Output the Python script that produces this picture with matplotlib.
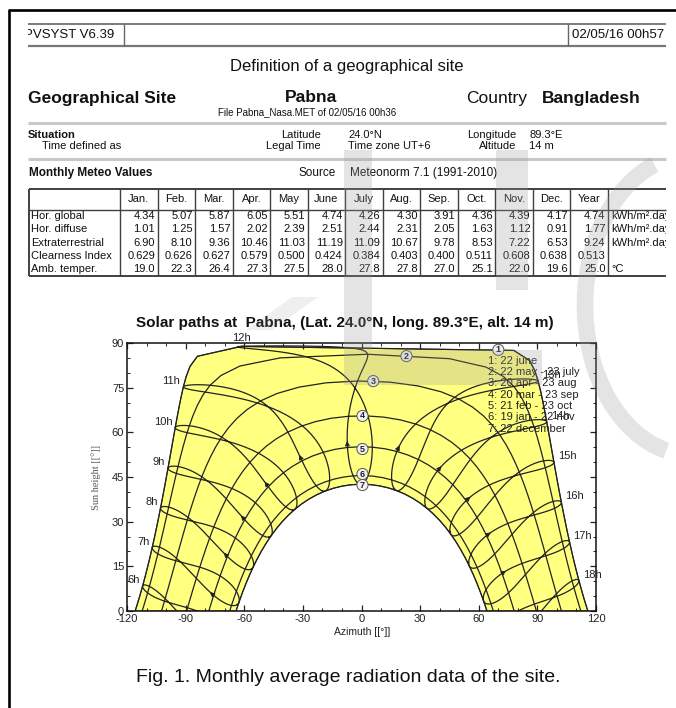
import numpy as np
import matplotlib
matplotlib.use('Agg')
import matplotlib.pyplot as plt
from matplotlib.patches import Rectangle, Arc, Polygon
from matplotlib.ticker import MultipleLocator
from matplotlib.transforms import Bbox, TransformedBbox

plt.rcParams['axes.unicode_minus'] = False
SANS = ['Liberation Sans', 'DejaVu Sans']
SERIF = ['Liberation Serif', 'DejaVu Serif']
NARROW = ['Liberation Sans Narrow', 'Liberation Sans', 'DejaVu Sans']

# ---------------- data ----------------
header_left = 'PVSYST V6.39'
header_right = '02/05/16 00h57'
page_title = 'Definition of a geographical site'
site_name = 'Pabna'
country_name = 'Bangladesh'
file_text = 'File Pabna_Nasa.MET of 02/05/16 00h36'
latitude = 24.0
longitude = 89.3
time_zone = 6
site_altitude = 14
meteo_source = 'Meteonorm 7.1 (1991-2010)'

months = ['Jan.', 'Feb.', 'Mar.', 'Apr.', 'May', 'June', 'July', 'Aug.',
          'Sep.', 'Oct.', 'Nov.', 'Dec.', 'Year']
row_labels = ['Hor. global', 'Hor. diffuse', 'Extraterrestrial',
              'Clearness Index', 'Amb. temper.']
hor_global = [4.34, 5.07, 5.87, 6.05, 5.51, 4.74, 4.26, 4.30, 3.91, 4.36, 4.39, 4.17, 4.74]
hor_diffuse = [1.01, 1.25, 1.57, 2.02, 2.39, 2.51, 2.44, 2.31, 2.05, 1.63, 1.12, 0.91, 1.77]
extraterrestrial = [6.90, 8.10, 9.36, 10.46, 11.03, 11.19, 11.09, 10.67, 9.78, 8.53, 7.22, 6.53, 9.24]
clearness_index = [0.629, 0.626, 0.627, 0.579, 0.500, 0.424, 0.384, 0.403, 0.400, 0.511, 0.608, 0.638, 0.513]
amb_temper = [19.0, 22.3, 26.4, 27.3, 27.5, 28.0, 27.8, 27.8, 27.0, 25.1, 22.0, 19.6, 25.0]
row_units = ['kWh/m\u00b2.day', 'kWh/m\u00b2.day', 'kWh/m\u00b2.day', '', '\u00b0C']
row_decimals = [2, 2, 2, 3, 1]

# solar paths: day of year of each date curve (from the legend)
path_days = [173, 142, 110, 79, 52, 19, 356]
path_labels = ['1: 22 june', '2: 22 may - 23 july', '3: 20 apr - 23 aug',
               '4: 20 mar - 23 sep', '5: 21 feb - 23 oct', '6: 19 jan - 22 nov',
               '7: 22 december']
marker_az = [70.0, 23.0, 6.0, 0.5, 0.5, 0.5, 0.5]
marker_alt = [87.7, 85.6, 77.2, 65.5, 54.4, 46.0, 42.3]
hours = [6, 7, 8, 9, 10, 11, 12, 13, 14, 15, 16, 17, 18]
arrow_day = 55
caption = 'Fig. 1. Monthly average radiation data of the site.'


# ---------------- solar geometry ----------------
def spencer(n):
    g = 2 * np.pi * (np.asarray(n, dtype=float) - 1) / 365.0
    dec = (0.006918 - 0.399912 * np.cos(g) + 0.070257 * np.sin(g)
           - 0.006758 * np.cos(2 * g) + 0.000907 * np.sin(2 * g)
           - 0.002697 * np.cos(3 * g) + 0.00148 * np.sin(3 * g))
    eot = 229.18 * (0.000075 + 0.001868 * np.cos(g) - 0.032077 * np.sin(g)
                    - 0.014615 * np.cos(2 * g) - 0.040849 * np.sin(2 * g))
    return np.degrees(dec), eot


def sun_pos(dec, omega):
    phi = np.radians(latitude)
    d = np.radians(dec)
    w = np.radians(omega)
    s = np.sin(phi) * np.sin(d) + np.cos(phi) * np.cos(d) * np.cos(w)
    alt = np.degrees(np.arcsin(np.clip(s, -1, 1)))
    az = np.degrees(np.arctan2(np.sin(w), np.cos(w) * np.sin(phi) - np.tan(d) * np.cos(phi)))
    return az, alt


def hour_angle(legal_hour, eot):
    solar = legal_hour + (longitude - 15.0 * time_zone) / 15.0 + eot / 60.0
    return 15.0 * (solar - 12.0)


def day_path(n):
    dec, eot = spencer(n)
    w0 = np.degrees(np.arccos(-np.tan(np.radians(latitude)) * np.tan(np.radians(dec))))
    t = np.arange(0, 24.001, 0.25)
    w = hour_angle(t, eot)
    w = w[(w > -w0) & (w < w0)]
    w = np.concatenate([[-w0], w, [w0]])
    return sun_pos(dec, w)


# ---------------- figure ----------------
fig = plt.figure(figsize=(6.76, 7.08), dpi=100)
bg = fig.add_axes([0, 0, 1, 1], zorder=0)
bg.set_xlim(0, 676)
bg.set_ylim(708, 0)
bg.axis('off')

clip_box = TransformedBbox(Bbox.from_extents(28 / 676, 0, 666 / 676, 1), fig.transFigure)


def T(x, y, s, size=8, weight='normal', ha='left', family=SANS, color='#111111', **kw):
    t = bg.text(x, y, s, fontsize=size, fontweight=weight, ha=ha, va='center',
                family=family, color=color, **kw)
    t.set_clip_path(None)
    t.set_clip_box(clip_box)
    t.set_clip_on(True)
    return t


def L(xs, ys, color='#555555', lw=1.0, **kw):
    bg.plot(xs, ys, color=color, lw=lw, solid_capstyle='butt', **kw)


# page border
L([8.5, 8.5], [9.5, 708], color='black', lw=1.9)
L([7.8, 676], [9.5, 9.5], color='black', lw=1.9)

# header box
L([28, 666], [23.5, 23.5], color='#666666', lw=1.2)
L([28, 666], [45.5, 45.5], color='#777777', lw=1.6)
L([124, 124], [23.5, 45.5], color='#666666', lw=1.0)
L([568, 568], [23.5, 45.5], color='#666666', lw=1.0)
T(24, 35, header_left, size=9.5)
T(572, 35, header_right, size=9.5)

T(347, 67, page_title, size=12, ha='center')
T(28, 98, 'Geographical Site', size=12.5, weight='bold')
T(311, 98, site_name, size=12.5, weight='bold', ha='center')
T(527, 98, 'Country', size=12.5, ha='right')
T(542, 98, country_name, size=12.5, weight='bold')
T(307, 112, file_text, size=7, ha='center')

L([28, 666], [123, 123], color='#c8c8c8', lw=2.2)
T(28, 135, 'Situation', size=8, weight='bold')
T(42, 146, 'Time defined as', size=8)
T(321, 135, 'Latitude', size=8, ha='right')
T(348, 135, '%.1f\u00b0N' % latitude, size=8)
T(321, 146, 'Legal Time', size=8, ha='right')
T(348, 146, 'Time zone UT+%d' % time_zone, size=8)
T(516, 135, 'Longitude', size=8, ha='right')
T(529, 135, '%.1f\u00b0E' % longitude, size=8)
T(516, 146, 'Altitude', size=8, ha='right')
T(529, 146, '%d m' % site_altitude, size=8)
L([28, 666], [159, 159], color='#c8c8c8', lw=2.2)

T(29, 173, 'Monthly Meteo Values', size=8.5, weight='bold')
T(336, 173, 'Source', size=8.5, ha='right')
T(350, 173, meteo_source, size=8.5)

# table
col_edges = np.linspace(120, 608, len(months) + 1)
tbl_top, tbl_head, tbl_bot = 189, 209.5, 276
row_h = (tbl_bot - tbl_head) / len(row_labels)
L([29, 666], [tbl_top, tbl_top], color='#404040', lw=1.4)
L([29, 666], [tbl_bot, tbl_bot], color='#404040', lw=1.4)
L([29, 666], [tbl_head, tbl_head], color='#404040', lw=1.0)
L([29, 29], [tbl_top, tbl_bot], color='#404040', lw=1.4)
for xe in col_edges:
    L([xe, xe], [tbl_top, tbl_bot], color='#404040', lw=1.0)
for j, m in enumerate(months):
    T((col_edges[j] + col_edges[j + 1]) / 2, (tbl_top + tbl_head) / 2, m, size=8, ha='center')
table_rows = [hor_global, hor_diffuse, extraterrestrial, clearness_index, amb_temper]
for i, (lab, vals, dec_n, unit) in enumerate(zip(row_labels, table_rows, row_decimals, row_units)):
    yc = tbl_head + row_h * (i + 0.5)
    T(31, yc, lab, size=8)
    for j, v in enumerate(vals):
        T(col_edges[j + 1] - 2.5, yc, '{:.{p}f}'.format(v, p=dec_n), size=8, ha='right')
    if unit:
        T(611, yc, unit, size=8)

# ---------------- solar path chart ----------------
ax = fig.add_axes([127 / 676, 1 - 611 / 708, 469 / 676, 268 / 708], zorder=1)
ax.set_xlim(-120, 120)
ax.set_ylim(0, 90)

az_j, alt_j = day_path(path_days[0])
az_d, alt_d = day_path(path_days[-1])
ax.fill(np.concatenate([az_j, az_d[::-1]]), np.concatenate([alt_j, alt_d[::-1]]),
        facecolor='#ffff80', edgecolor='#3a3a3a', lw=0.8, zorder=1)

for n in path_days:
    az, alt = day_path(n)
    ax.plot(az, alt, color='#222222', lw=0.9, zorder=2)

days = np.arange(1, 366)
dec_y, eot_y = spencer(days)
dec_j, eot_j = spencer(path_days[0])
for h in hours:
    az, alt = sun_pos(dec_y, hour_angle(h, eot_y))
    ax.plot(np.append(az, az[0]), np.append(alt, alt[0]), color='#222222', lw=0.9, zorder=2)
    i = arrow_day - 1
    if alt[i] > 1:
        ax.annotate('', xy=(az[i + 3], alt[i + 3]), xytext=(az[i], alt[i]),
                    arrowprops=dict(arrowstyle='-|>', color='#222222', lw=0.7,
                                    mutation_scale=7, shrinkA=0, shrinkB=0), zorder=3)
    ae, he = sun_pos(dec_j, hour_angle(h, eot_j))
    if h < 12:
        ax.text(ae - 1.5, he + 2.0, '%dh' % h, ha='right', va='center', fontsize=8,
                family=SANS, color='#222222', zorder=6)
    elif h == 12:
        ax.text(ae, 91.8, '%dh' % h, ha='center', va='center', fontsize=8,
                family=SANS, color='#222222', zorder=6, clip_on=False)
    else:
        ax.text(ae + 2.0, he + 2.0, '%dh' % h, ha='left', va='center', fontsize=8,
                family=SANS, color='#222222', zorder=6, clip_on=False)

for k in range(len(path_days)):
    ax.text(marker_az[k], marker_alt[k], str(k + 1), ha='center', va='center',
            fontsize=6.5, fontweight='bold', family=SANS, color='#222222', zorder=7,
            bbox=dict(boxstyle='circle,pad=0.12', fc='#f2f2f2', ec='#555555', lw=0.7))

for k, lab in enumerate(path_labels):
    ax.text(64.7, 84.0 - 3.8 * k, lab, ha='left', va='center', fontsize=8,
            family=SANS, color='#222222', zorder=8)

ax.xaxis.set_major_locator(MultipleLocator(30))
ax.xaxis.set_minor_locator(MultipleLocator(10))
ax.yaxis.set_major_locator(MultipleLocator(15))
ax.yaxis.set_minor_locator(MultipleLocator(5))
ax.tick_params(which='both', direction='in', top=True, right=True,
               labelsize=8, labelcolor='#222222', color='#222222', pad=2)
ax.tick_params(which='major', length=4, width=0.9)
ax.tick_params(which='minor', length=2.5, width=0.7)
for lab in ax.get_xticklabels() + ax.get_yticklabels():
    lab.set_family(SANS)
for sp in ax.spines.values():
    sp.set_linewidth(1.1)
    sp.set_color('#111111')

fig.text(345 / 676, 1 - 323 / 708,
         'Solar paths at  %s, (Lat. %.1f\u00b0N, long. %.1f\u00b0E, alt. %d m)'
         % (site_name, latitude, longitude, site_altitude),
         ha='center', va='center', fontsize=11, fontweight='bold', family=SANS, color='#111111')
fig.text(96 / 676, 1 - 478 / 708, 'Sun height [[\u00b0]]', rotation=90, ha='center', va='center',
         fontsize=7.5, family=SERIF, color='#555555')
fig.text(362 / 676, 1 - 632 / 708, 'Azimuth [[\u00b0]]', ha='center', va='center',
         fontsize=7.5, family=SANS, color='#222222')
fig.text(348 / 676, 1 - 677 / 708, caption, ha='center', va='center',
         fontsize=14, family=NARROW, color='#111111')

# ---------------- faint watermark ----------------
wm = fig.add_axes([0, 0, 1, 1], zorder=5)
wm.set_xlim(0, 676)
wm.set_ylim(708, 0)
wm.axis('off')
wm_col = '#9a9a9a'
wm.add_patch(Rectangle((344, 150), 28, 235, color=wm_col, alpha=0.26, lw=0))
wm.add_patch(Rectangle((372, 350), 170, 35, color=wm_col, alpha=0.26, lw=0))
wm.add_patch(Rectangle((496, 150), 32, 140, color=wm_col, alpha=0.26, lw=0))
wm.add_patch(Polygon([(246, 330), (292, 297), (318, 297), (272, 330)], closed=True,
                     color=wm_col, alpha=0.15, lw=0))
wm.add_patch(Arc((692, 305), 214, 300, theta1=100, theta2=255, color=wm_col, alpha=0.26, lw=12))

fig.savefig('out.png', dpi=100)
